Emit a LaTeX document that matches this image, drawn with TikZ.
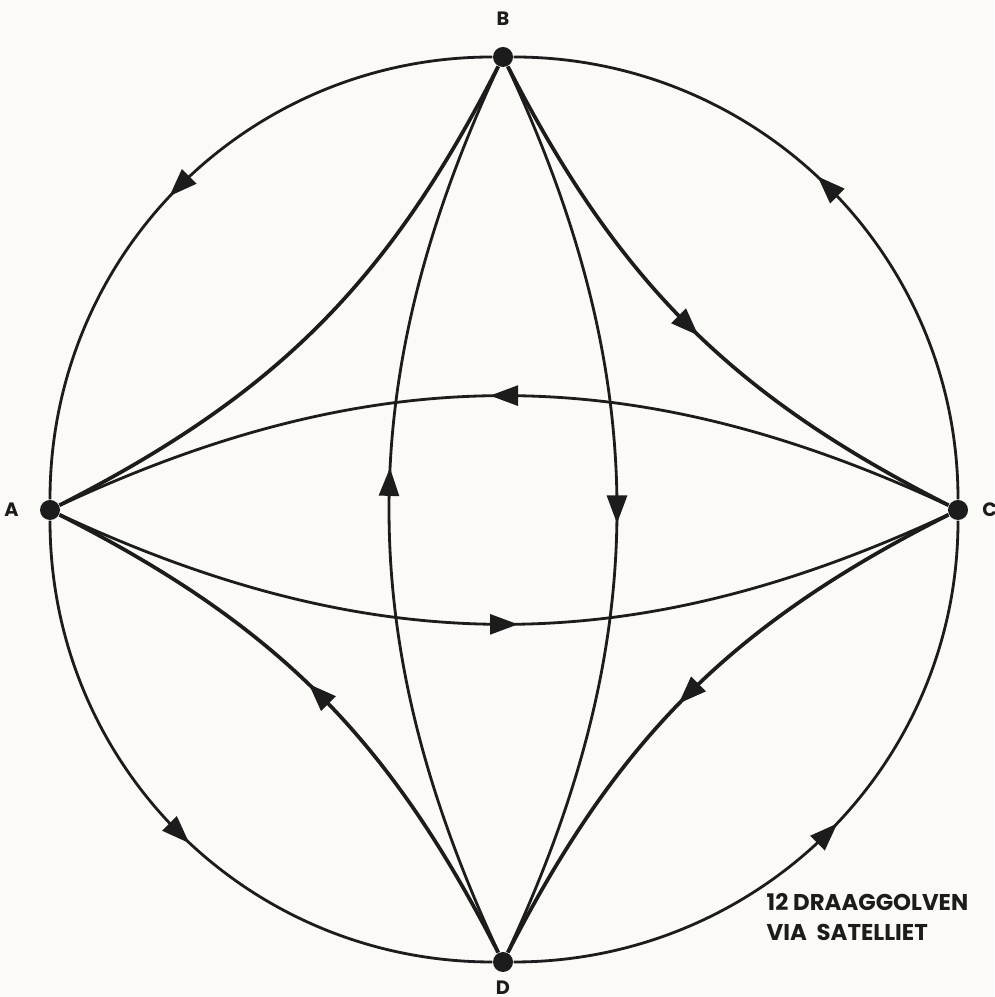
\documentclass[tikz,border=0pt]{standalone}
\usepackage{fontspec}
\setmainfont{Poppins}
\usetikzlibrary{arrows.meta,decorations.markings,positioning}
\definecolor{paper}{RGB}{252,250,246}
\definecolor{ink}{RGB}{28,28,28}

\begin{document}
\begin{tikzpicture}[font=\bfseries,
  station/.style={circle, fill=ink, inner sep=0pt, minimum size=2mm},
  lbl/.style={font=\fontsize{5.5}{6}\selectfont\bfseries, text=ink, inner sep=0pt},
  carrier/.style={draw=ink, line width=0.8pt},
  hop/.style={draw=ink, line width=1.05pt},
  midarrow/.style={postaction={decorate}, decoration={markings,
      mark=at position #1 with {\arrow[xshift=1.4mm]{Triangle[length=2.8mm,width=2mm]}}}},
  midarrow/.default=0.5]
  \fill[paper] (0,0) rectangle (9.94,9.97);
  \useasboundingbox (0,0) rectangle (9.94,9.97);

  % stations
  \node[station] (A) at (0.50,4.87) {};
  \node[station] (B) at (5.03,9.40) {};
  \node[station] (C) at (9.58,4.87) {};
  \node[station] (D) at (5.03,0.35) {};
  \node[lbl, left=2mm of A] (labA) {A};
  \node[lbl, above=2mm of B] (labB) {B};
  \node[lbl, right=1.3mm of C] (labC) {C};
  \node[lbl, below=0.8mm of D] (labD) {D};

  % outer circle
  \draw[carrier, midarrow] (B) to[out=180,in=90] (A);
  \draw[carrier, midarrow] (A) to[out=270,in=180] (D);
  \draw[carrier, midarrow] (D) to[out=0,in=270] (C);
  \draw[carrier, midarrow] (C) to[out=90,in=0] (B);

  % neighbour links
  \draw[hop] (A) to[bend right=18] (B);
  \draw[hop, midarrow] (B) to[bend right=18] (C);
  \draw[hop, midarrow] (C) to[bend right=18] (D);
  \draw[hop, midarrow] (D) to[bend right=18] (A);

  % cross links
  \draw[carrier, midarrow] (C) to[bend right=25] (A);
  \draw[carrier, midarrow] (A) to[bend right=25] (C);
  \draw[carrier, midarrow=0.53] (D) to[bend left=25] (B);
  \draw[carrier, midarrow] (B) to[bend left=25] (D);

  \node[lbl, font=\fontsize{6.5}{8.5}\selectfont\bfseries, align=left, anchor=west] (note) at (7.66,0.80) {12 DRAAGGOLVEN\\VIA\ \ SATELLIET};
\end{tikzpicture}
\end{document}
